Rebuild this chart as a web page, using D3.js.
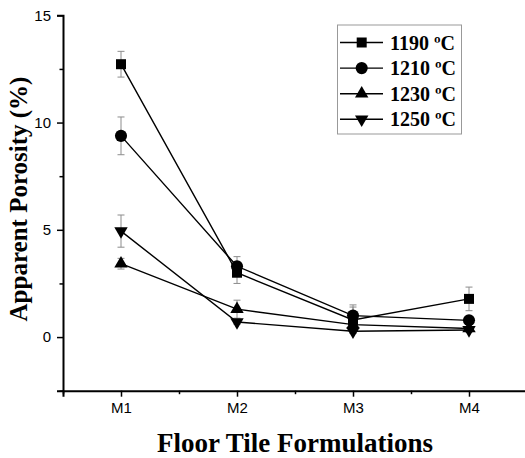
<!DOCTYPE html>
<html>
<head>
<meta charset="utf-8">
<script src="https://cdn.jsdelivr.net/npm/d3@7/dist/d3.min.js"></script>
<style>
  html, body { margin: 0; padding: 0; background: #fff; }
  svg { display: block; }
</style>
</head>
<body>
<svg id="chart" width="525" height="458"></svg>
<script>
// ---- data ----
const categories = ["M1", "M2", "M3", "M4"];
const seriesNames = ["1190 ºC", "1210 ºC", "1230 ºC", "1250 ºC"];
const v1190 = [12.72, 3.0, 0.8, 1.78];
const e1190 = [0.6, 0.5, 0.6, 0.55];
const v1210 = [9.38, 3.3, 1.0, 0.78];
const e1210 = [0.88, 0.45, 0.5, 0.15];
const v1230 = [3.42, 1.3, 0.58, 0.4];
const e1230 = [0.25, 0.42, 0.15, 0.1];
const v1250 = [4.94, 0.7, 0.27, 0.33];
const e1250 = [0.75, 0.1, 0.1, 0.1];
const yTicks = [0, 5, 10, 15];
const yMinor = [-2.5, 2.5, 7.5, 12.5];
const xTitle = "Floor Tile Formulations";
const yTitle = "Apparent Porosity (%)";

const seriesValues = [v1190, v1210, v1230, v1250];
const seriesErrors = [e1190, e1210, e1230, e1250];
const symbols = ["square", "circle", "up", "down"];

// ---- layout ----
const svg = d3.select("#chart");
const x = d3.scaleLinear().domain([0.5, 4.5]).range([63, 527]);
const y = d3.scaleLinear().domain([-2.5, 15]).range([390.7, 15.3]);

function symPath(kind) {
  if (kind === "square") return d3.symbol().type(d3.symbolSquare).size(100)();
  if (kind === "circle") return d3.symbol().type(d3.symbolCircle).size(115)();
  return d3.symbol().type(d3.symbolTriangle).size(78)();
}
function symTransform(kind, px, py) {
  return kind === "down" ? `translate(${px},${py}) rotate(180)` : `translate(${px},${py})`;
}

// axes
const xMajor = categories.map((c, i) => i + 1);
const xMinorVals = [0.5, 1.5, 2.5, 3.5, 4.5];

const gx = svg.append("g").attr("transform", `translate(0,${y(-2.5)})`);
gx.call(d3.axisBottom(x).tickValues(xMinorVals).tickSize(3.5).tickFormat(""));
gx.call(g => g.selectAll(".domain").remove());
const gx2 = svg.append("g").attr("transform", `translate(0,${y(-2.5)})`);
gx2.call(d3.axisBottom(x).tickValues(xMajor).tickSize(6).tickPadding(6)
  .tickFormat(d => categories[d - 1]));
gx2.selectAll(".domain").attr("stroke-width", 2);
gx2.selectAll(".tick line").attr("stroke-width", 1.5);
gx.selectAll(".tick line").attr("stroke-width", 1.5);
gx2.selectAll("text").attr("font-family", "Liberation Sans, Arial, sans-serif")
  .attr("font-size", 15).attr("fill", "#000");

const gy = svg.append("g").attr("transform", `translate(${x(0.5)},0)`);
gy.call(d3.axisLeft(y).tickValues(yMinor).tickSize(3.5).tickFormat(""));
gy.call(g => g.selectAll(".domain").remove());
gy.selectAll(".tick line").attr("stroke-width", 1.5);
const gy2 = svg.append("g").attr("transform", `translate(${x(0.5)},0)`);
gy2.call(d3.axisLeft(y).tickValues(yTicks).tickSize(6).tickPadding(6).tickFormat(d3.format("d")));
gy2.selectAll(".domain").attr("stroke-width", 2);
gy2.selectAll(".tick line").attr("stroke-width", 1.5);
gy2.selectAll("text").attr("font-family", "Liberation Sans, Arial, sans-serif")
  .attr("font-size", 15).attr("fill", "#000");

// titles
svg.append("text")
  .attr("x", 295).attr("y", 451.5)
  .attr("text-anchor", "middle")
  .attr("font-family", "Liberation Serif, Times New Roman, serif")
  .attr("font-weight", "bold").attr("font-size", 27)
  .text(xTitle);
svg.append("text")
  .attr("transform", "translate(27,199) rotate(-90)")
  .attr("text-anchor", "middle")
  .attr("font-family", "Liberation Serif, Times New Roman, serif")
  .attr("font-weight", "bold").attr("font-size", 25)
  .text(yTitle);

// error bars
const plot = svg.append("g");
seriesValues.forEach((vals, s) => {
  const errs = seriesErrors[s];
  const g = plot.append("g").attr("stroke", "#8c8c8c").attr("stroke-width", 1).attr("fill", "none");
  vals.forEach((v, i) => {
    const px = x(i + 1);
    const top = y(v + errs[i]), bot = y(v - errs[i]);
    g.append("line").attr("x1", px).attr("x2", px).attr("y1", top).attr("y2", bot);
    g.append("line").attr("x1", px - 3.5).attr("x2", px + 3.5).attr("y1", top).attr("y2", top);
    g.append("line").attr("x1", px - 3.5).attr("x2", px + 3.5).attr("y1", bot).attr("y2", bot);
  });
});

// lines
const line = d3.line().x((d, i) => x(i + 1)).y(d => y(d));
seriesValues.forEach(vals => {
  plot.append("path").datum(vals).attr("d", line)
    .attr("fill", "none").attr("stroke", "#000").attr("stroke-width", 1.4);
});

// markers
seriesValues.forEach((vals, s) => {
  plot.selectAll(null).data(vals).enter().append("path")
    .attr("d", symPath(symbols[s]))
    .attr("transform", (d, i) => symTransform(symbols[s], x(i + 1), y(d)))
    .attr("fill", "#000");
});

// legend
const lg = svg.append("g");
lg.append("rect").attr("x", 337.5).attr("y", 25).attr("width", 124).attr("height", 109)
  .attr("fill", "#fff").attr("stroke", "#999").attr("stroke-width", 1);
seriesNames.forEach((name, s) => {
  const cy = 42.5 + s * 25.6;
  lg.append("line").attr("x1", 340).attr("x2", 383).attr("y1", cy).attr("y2", cy)
    .attr("stroke", "#000").attr("stroke-width", 1.4);
  lg.append("path").attr("d", symPath(symbols[s]))
    .attr("transform", symTransform(symbols[s], 361.7, cy)).attr("fill", "#000");
  lg.append("text").attr("x", 390).attr("y", cy + 7)
    .attr("font-family", "Liberation Serif, Times New Roman, serif")
    .attr("font-weight", "bold").attr("font-size", 20)
    .text(name);
});
</script>
</body>
</html>
